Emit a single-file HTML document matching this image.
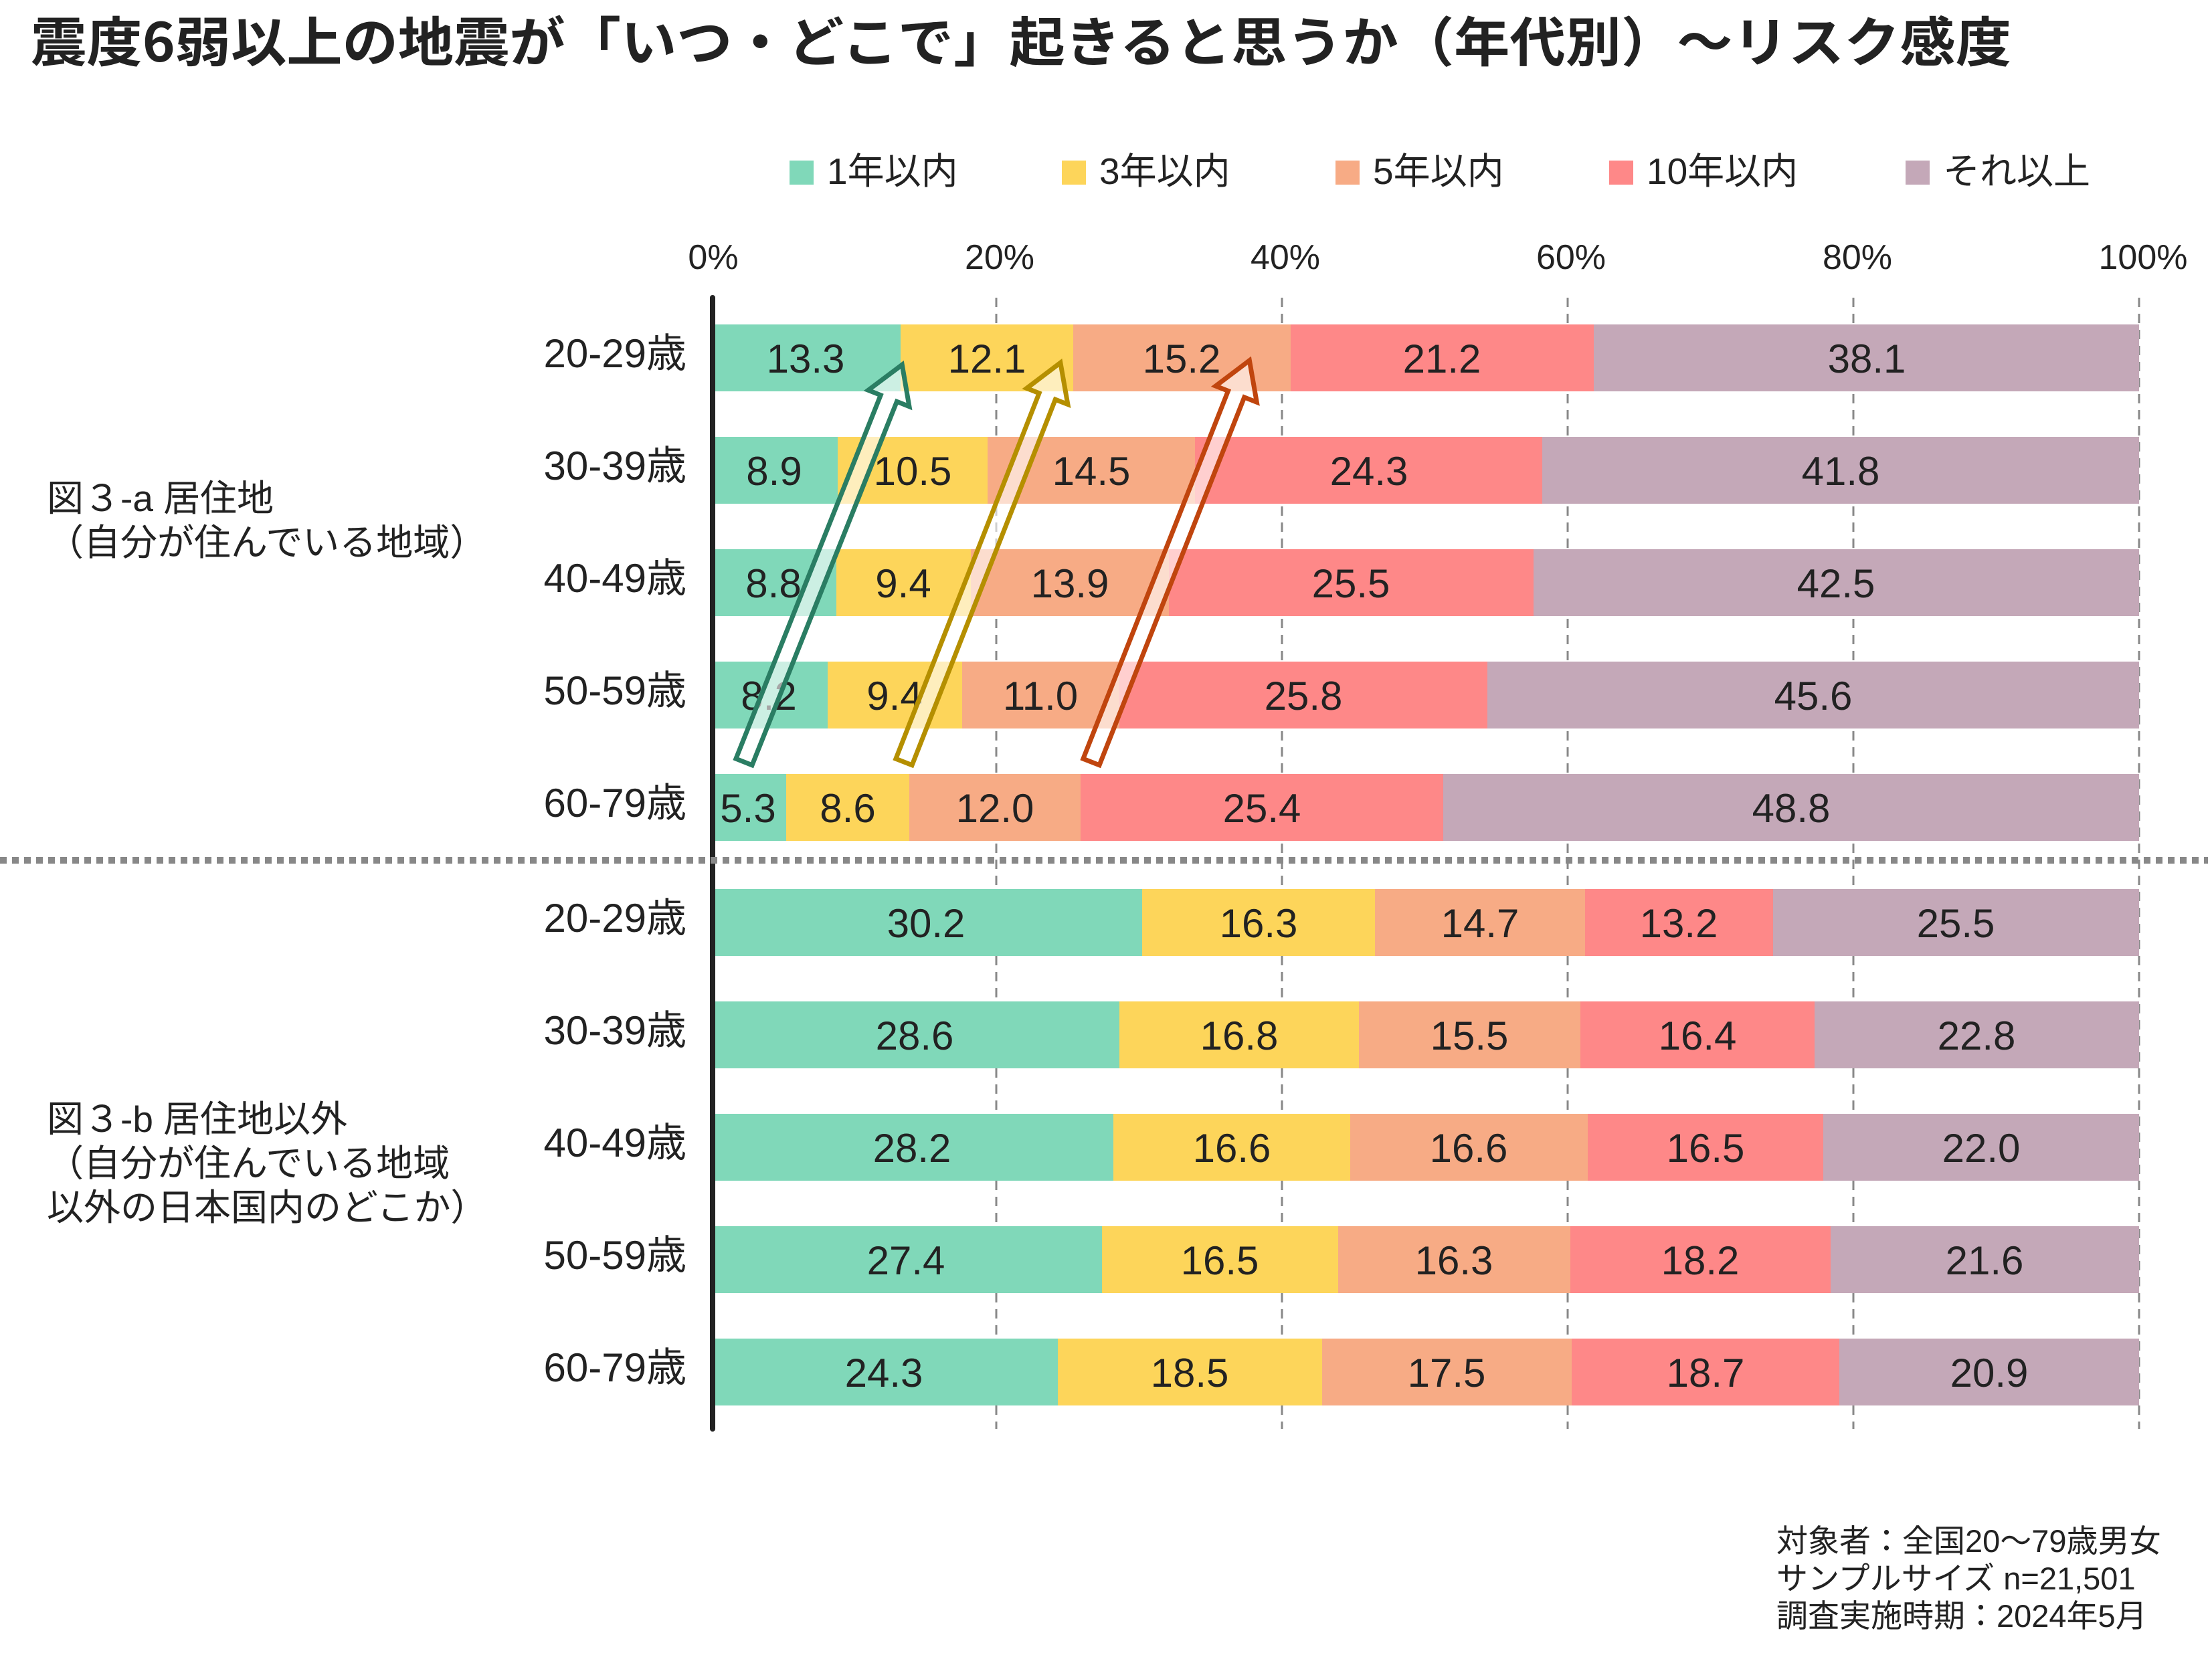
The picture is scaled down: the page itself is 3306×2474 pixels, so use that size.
<!DOCTYPE html>
<html><head><meta charset="utf-8"><style>
html,body{margin:0;padding:0;background:#fff}
svg text{font-family:"Liberation Sans","Noto Sans CJK JP",sans-serif;fill:#222}
</style></head><body>
<svg width="3306" height="2469" viewBox="0 0 3306 2469" xmlns="http://www.w3.org/2000/svg">
<text x="46" y="92" font-size="80" font-weight="bold" textLength="2960" lengthAdjust="spacingAndGlyphs" style="font-family:'Noto Sans CJK JP',sans-serif">震度6弱以上の地震が「いつ・どこで」起きると思うか（年代別）～リスク感度</text>
<g font-size="55">
<rect x="1180" y="240" width="36" height="36" fill="#80d8b9"/><text x="1236" y="275">1年以内</text>
<rect x="1587" y="240" width="36" height="36" fill="#fdd55a"/><text x="1643" y="275">3年以内</text>
<rect x="1996" y="240" width="36" height="36" fill="#f7ab85"/><text x="2052" y="275">5年以内</text>
<rect x="2405" y="240" width="36" height="36" fill="#fe8888"/><text x="2461" y="275">10年以内</text>
<rect x="2848" y="240" width="36" height="36" fill="#c4a8b8"/><text x="2904" y="275">それ以上</text>
</g>
<g font-size="52" text-anchor="middle">
<text x="1066" y="402">0%</text><text x="1494" y="402">20%</text><text x="1921" y="402">40%</text><text x="2348" y="402">60%</text><text x="2776" y="402">80%</text><text x="3203" y="402">100%</text>
</g>
<g stroke="#888" stroke-width="3" stroke-dasharray="14,10">
<line x1="1489" y1="445" x2="1489" y2="2136"/><line x1="1916" y1="445" x2="1916" y2="2136"/><line x1="2343" y1="445" x2="2343" y2="2136"/><line x1="2770" y1="445" x2="2770" y2="2136"/><line x1="3197" y1="445" x2="3197" y2="2136"/>
</g>
<g>
<rect x="1062" y="485" width="284" height="100" fill="#80d8b9"/><rect x="1346" y="485" width="258" height="100" fill="#fdd55a"/><rect x="1604" y="485" width="325" height="100" fill="#f7ab85"/><rect x="1929" y="485" width="453" height="100" fill="#fe8888"/><rect x="2382" y="485" width="815" height="100" fill="#c4a8b8"/>
<rect x="1062" y="653" width="190" height="100" fill="#80d8b9"/><rect x="1252" y="653" width="224" height="100" fill="#fdd55a"/><rect x="1476" y="653" width="310" height="100" fill="#f7ab85"/><rect x="1786" y="653" width="519" height="100" fill="#fe8888"/><rect x="2305" y="653" width="892" height="100" fill="#c4a8b8"/>
<rect x="1062" y="821" width="188" height="100" fill="#80d8b9"/><rect x="1250" y="821" width="201" height="100" fill="#fdd55a"/><rect x="1451" y="821" width="296" height="100" fill="#f7ab85"/><rect x="1747" y="821" width="545" height="100" fill="#fe8888"/><rect x="2292" y="821" width="905" height="100" fill="#c4a8b8"/>
<rect x="1062" y="989" width="175" height="100" fill="#80d8b9"/><rect x="1237" y="989" width="201" height="100" fill="#fdd55a"/><rect x="1438" y="989" width="235" height="100" fill="#f7ab85"/><rect x="1673" y="989" width="550" height="100" fill="#fe8888"/><rect x="2223" y="989" width="974" height="100" fill="#c4a8b8"/>
<rect x="1062" y="1157" width="113" height="100" fill="#80d8b9"/><rect x="1175" y="1157" width="184" height="100" fill="#fdd55a"/><rect x="1359" y="1157" width="256" height="100" fill="#f7ab85"/><rect x="1615" y="1157" width="542" height="100" fill="#fe8888"/><rect x="2157" y="1157" width="1040" height="100" fill="#c4a8b8"/>
</g>
<g>
<rect x="1062" y="1329" width="645" height="100" fill="#80d8b9"/><rect x="1707" y="1329" width="348" height="100" fill="#fdd55a"/><rect x="2055" y="1329" width="314" height="100" fill="#f7ab85"/><rect x="2369" y="1329" width="281" height="100" fill="#fe8888"/><rect x="2650" y="1329" width="547" height="100" fill="#c4a8b8"/>
<rect x="1062" y="1497" width="611" height="100" fill="#80d8b9"/><rect x="1673" y="1497" width="358" height="100" fill="#fdd55a"/><rect x="2031" y="1497" width="331" height="100" fill="#f7ab85"/><rect x="2362" y="1497" width="350" height="100" fill="#fe8888"/><rect x="2712" y="1497" width="485" height="100" fill="#c4a8b8"/>
<rect x="1062" y="1665" width="602" height="100" fill="#80d8b9"/><rect x="1664" y="1665" width="354" height="100" fill="#fdd55a"/><rect x="2018" y="1665" width="355" height="100" fill="#f7ab85"/><rect x="2373" y="1665" width="352" height="100" fill="#fe8888"/><rect x="2725" y="1665" width="472" height="100" fill="#c4a8b8"/>
<rect x="1062" y="1833" width="585" height="100" fill="#80d8b9"/><rect x="1647" y="1833" width="353" height="100" fill="#fdd55a"/><rect x="2000" y="1833" width="347" height="100" fill="#f7ab85"/><rect x="2347" y="1833" width="389" height="100" fill="#fe8888"/><rect x="2736" y="1833" width="461" height="100" fill="#c4a8b8"/>
<rect x="1062" y="2001" width="519" height="100" fill="#80d8b9"/><rect x="1581" y="2001" width="395" height="100" fill="#fdd55a"/><rect x="1976" y="2001" width="373" height="100" fill="#f7ab85"/><rect x="2349" y="2001" width="400" height="100" fill="#fe8888"/><rect x="2749" y="2001" width="448" height="100" fill="#c4a8b8"/>
</g>
<g font-size="60" text-anchor="middle">
<text x="1204" y="557">13.3</text><text x="1475" y="557">12.1</text><text x="1766" y="557">15.2</text><text x="2155" y="557">21.2</text><text x="2790" y="557">38.1</text>
<text x="1157" y="725">8.9</text><text x="1364" y="725">10.5</text><text x="1631" y="725">14.5</text><text x="2046" y="725">24.3</text><text x="2751" y="725">41.8</text>
<text x="1156" y="893">8.8</text><text x="1350" y="893">9.4</text><text x="1599" y="893">13.9</text><text x="2019" y="893">25.5</text><text x="2744" y="893">42.5</text>
<text x="1149" y="1061">8.2</text><text x="1337" y="1061">9.4</text><text x="1555" y="1061">11.0</text><text x="1948" y="1061">25.8</text><text x="2710" y="1061">45.6</text>
<text x="1118" y="1229">5.3</text><text x="1267" y="1229">8.6</text><text x="1487" y="1229">12.0</text><text x="1886" y="1229">25.4</text><text x="2677" y="1229">48.8</text>
<text x="1384" y="1401">30.2</text><text x="1881" y="1401">16.3</text><text x="2212" y="1401">14.7</text><text x="2509" y="1401">13.2</text><text x="2923" y="1401">25.5</text>
<text x="1367" y="1569">28.6</text><text x="1852" y="1569">16.8</text><text x="2196" y="1569">15.5</text><text x="2537" y="1569">16.4</text><text x="2954" y="1569">22.8</text>
<text x="1363" y="1737">28.2</text><text x="1841" y="1737">16.6</text><text x="2195" y="1737">16.6</text><text x="2549" y="1737">16.5</text><text x="2961" y="1737">22.0</text>
<text x="1354" y="1905">27.4</text><text x="1823" y="1905">16.5</text><text x="2173" y="1905">16.3</text><text x="2541" y="1905">18.2</text><text x="2966" y="1905">21.6</text>
<text x="1321" y="2073">24.3</text><text x="1778" y="2073">18.5</text><text x="2162" y="2073">17.5</text><text x="2549" y="2073">18.7</text><text x="2973" y="2073">20.9</text>
</g>
<g stroke-width="7" stroke-linejoin="miter">
<polygon transform="translate(1112,1139) rotate(-68.3)" points="0,-13 585,-13 585,-33 639,0 585,33 585,13 0,13" fill="rgba(255,255,255,0.6)" stroke="#2a7d63"/>
<polygon transform="translate(1351,1139) rotate(-68.6)" points="0,-13 587,-13 587,-33 641,0 587,33 587,13 0,13" fill="rgba(255,255,255,0.6)" stroke="#b58f00"/>
<polygon transform="translate(1631,1139) rotate(-68.5)" points="0,-13 591,-13 591,-33 645,0 591,33 591,13 0,13" fill="rgba(255,255,255,0.6)" stroke="#c0450e"/>
</g>
<line x1="1065" y1="445" x2="1065" y2="2136" stroke="#222" stroke-width="8" stroke-linecap="round"/>
<line x1="0" y1="1286" x2="3300" y2="1286" stroke="#888" stroke-width="10" stroke-dasharray="10,8"/>
<g font-size="60" text-anchor="end">
<text x="1026" y="549">20-29歳</text><text x="1026" y="717">30-39歳</text><text x="1026" y="885">40-49歳</text><text x="1026" y="1053">50-59歳</text><text x="1026" y="1221">60-79歳</text>
<text x="1026" y="1393">20-29歳</text><text x="1026" y="1561">30-39歳</text><text x="1026" y="1729">40-49歳</text><text x="1026" y="1897">50-59歳</text><text x="1026" y="2065">60-79歳</text>
</g>
<g font-size="55">
<text x="70" y="764">図３-a 居住地</text><text x="70" y="830">（自分が住んでいる地域）</text>
<text x="70" y="1692">図３-b 居住地以外</text><text x="70" y="1758">（自分が住んでいる地域</text><text x="70" y="1824">以外の日本国内のどこか）</text>
</g>
<g font-size="47">
<text x="2655" y="2320">対象者：全国20～79歳男女</text><text x="2655" y="2376">サンプルサイズ n=21,501</text><text x="2655" y="2432">調査実施時期：2024年5月</text>
</g>
</svg>
</body></html>
